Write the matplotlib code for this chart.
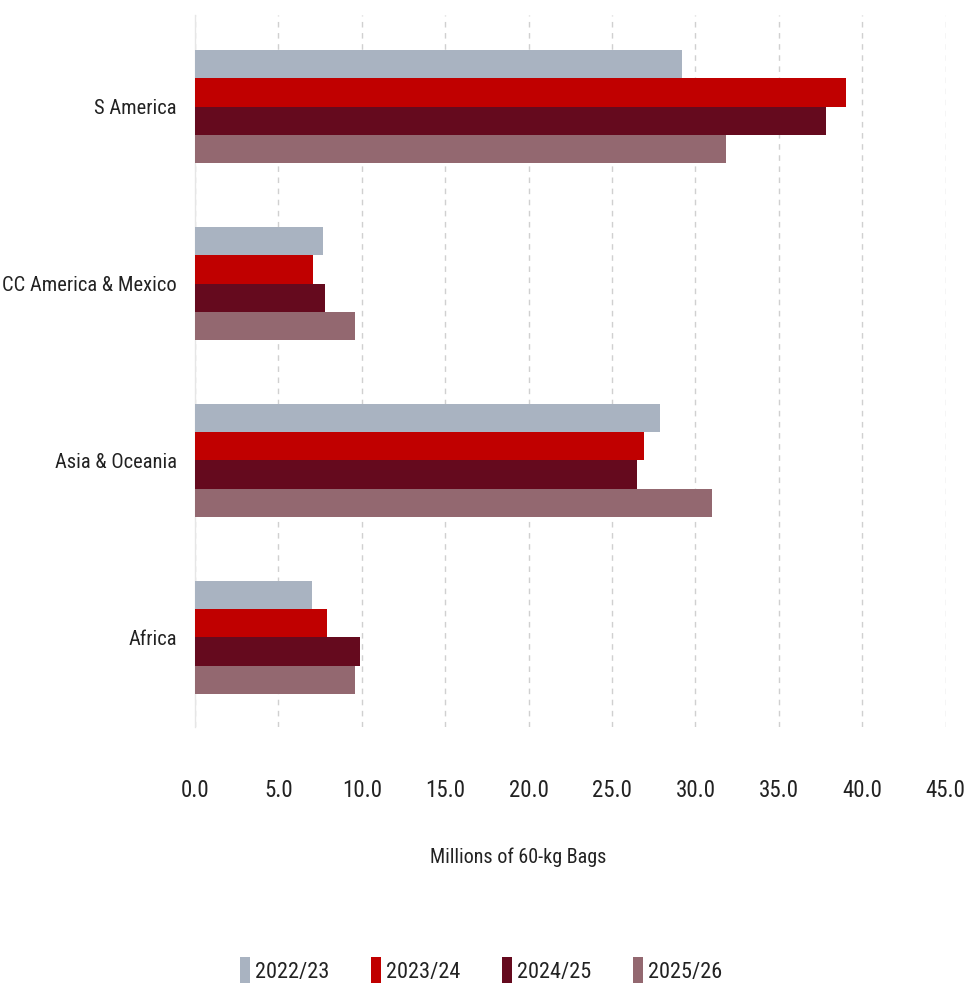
import matplotlib
matplotlib.use("Agg")
import matplotlib.pyplot as plt
import numpy as np
from matplotlib import font_manager

# data (millions of 60-kg bags)
regions = ["S America", "CC America & Mexico", "Asia & Oceania", "Africa"]
seasons = ["2022/23", "2023/24", "2024/25", "2025/26"]
v_2022 = [29.2, 7.7, 27.9, 7.0]
v_2023 = [39.0, 7.1, 26.9, 7.9]
v_2024 = [37.8, 7.8, 26.5, 9.9]
v_2025 = [31.8, 9.6, 31.0, 9.6]
x_ticks = [0, 5, 10, 15, 20, 25, 30, 35, 40, 45]

colors = ["#a9b3c1", "#c00000", "#650a1e", "#936870"]

# pick a narrow font if there is one
names = {f.name for f in font_manager.fontManager.ttflist}
fam = [n for n in ["Roboto Condensed", "Liberation Sans Narrow", "Open Sans Condensed",
                   "Liberation Sans", "DejaVu Sans"] if n in names]
plt.rcParams["font.family"] = fam

fig = plt.figure(figsize=(9.7, 9.86), dpi=100)
ax = fig.add_axes([0.201, 0.263, 0.774, 0.722])

h = 0.16
y = np.arange(len(regions))[::-1].astype(float)
series = [v_2022, v_2023, v_2024, v_2025]
for i, (vals, lab, c) in enumerate(zip(series, seasons, colors)):
    ax.barh(y + (1.5 - i) * h, vals, height=h, color=c, label=lab, zorder=3)

ax.set_xlim(0, 45)
ax.set_ylim(-0.505, 3.52)
ax.set_xticks(x_ticks)
ax.set_xticklabels([f"{t:.1f}" for t in x_ticks], fontsize=16.5, color="#222222")
ax.set_yticks(y)
ax.set_yticklabels(regions, fontsize=14.8, color="#222222")
ax.tick_params(axis="x", length=0, pad=38)
ax.tick_params(axis="y", length=0, pad=13)

for s in ["top", "right", "bottom"]:
    ax.spines[s].set_visible(False)
ax.spines["left"].set_color("#e6e6e6")
ax.spines["left"].set_linewidth(1.0)

ax.xaxis.grid(True, linestyle=(0, (4, 4)), color="#d0d0d0", linewidth=1.0, zorder=0)
ax.set_axisbelow(True)

fig.text(0.534, 0.131, "Millions of 60-kg Bags", ha="center", va="center",
         fontsize=14.5, color="#222222")

fig.legend(loc="center", bbox_to_anchor=(0.496, 0.016), ncol=4, frameon=False,
           fontsize=16, handlelength=0.45, handleheight=1.4, handletextpad=0.2,
           columnspacing=1.9, labelcolor="#222222")

fig.savefig("out.png", dpi=100, facecolor="white")
